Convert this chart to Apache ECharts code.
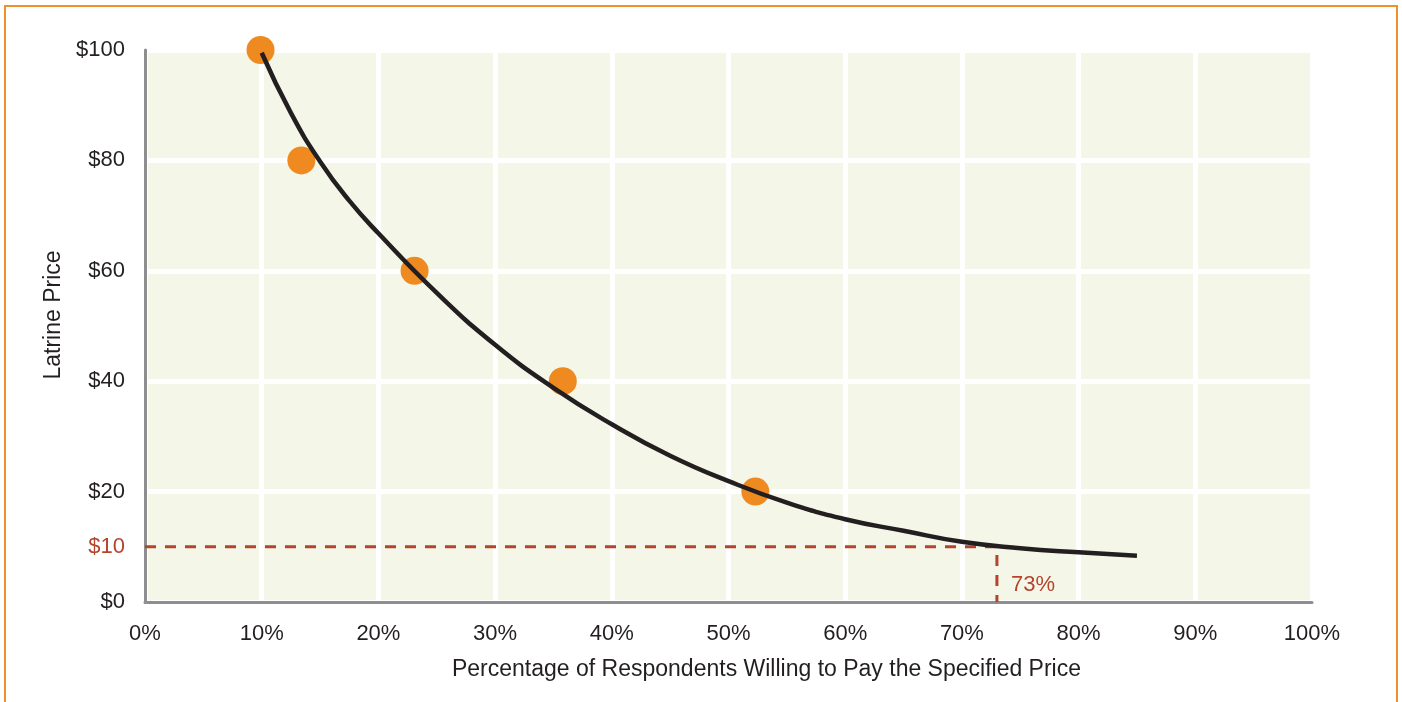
<!DOCTYPE html>
<html>
<head>
<meta charset="utf-8">
<script src="https://cdn.jsdelivr.net/npm/echarts@6/dist/echarts.min.js"></script>
<style>
html,body{margin:0;padding:0;background:#fff;}
#chart{width:1402px;height:702px;}
</style>
</head>
<body>
<div id="chart"></div>
<script>
// Survey points (percentage willing, price)
var surveyPct = [9.9, 13.4, 23.1, 35.8, 52.3];
var surveyPrice = [100, 80, 60, 40, 20];
// Fitted demand curve
var curvePct = [10, 12.5, 15, 17.5, 20, 25, 30, 35, 40, 45, 50, 55, 60, 65, 70, 75, 80, 85];
var curvePrice = [99.5, 88.6, 79.8, 72.7, 66.8, 56.0, 46.6, 38.8, 32.2, 26.5, 21.9, 18.0, 15.0, 12.9, 10.9, 9.75, 9.0, 8.4];
// Reference lines
var refPrice = 10;
var refPct = 73;
var xTicks = [0, 10, 20, 30, 40, 50, 60, 70, 80, 90, 100];
var yTicks = [0, 20, 40, 60, 80, 100];

var FONT = '"Liberation Sans", Arial, Helvetica, sans-serif';
var TXT = '#231f20';
var RED = '#b5432d';

var chart = echarts.init(document.getElementById('chart'), null, {renderer: 'canvas'});

var option = {
  backgroundColor: '#ffffff',
  animation: false,
  textStyle: {fontFamily: FONT},
  graphic: [{
    type: 'rect',
    shape: {x: 5, y: 6, width: 1392, height: 720},
    style: {fill: 'none', stroke: '#f0902a', lineWidth: 2},
    silent: true,
    z: 100
  }],
  grid: {
    left: 145, right: 90, top: 50, bottom: 100,
    show: true, backgroundColor: '#f4f7e7', borderWidth: 0
  },
  xAxis: {
    type: 'value',
    min: xTicks[0], max: xTicks[xTicks.length - 1], interval: 10,
    name: 'Percentage of Respondents Willing to Pay the Specified Price',
    nameLocation: 'middle', nameGap: 56,
    nameTextStyle: {color: TXT, fontSize: 23, fontFamily: FONT, padding: [0, 0, 0, 76]},
    axisLine: {show: true, lineStyle: {color: '#8e8e90', width: 3}},
    axisTick: {show: false},
    axisLabel: {color: TXT, fontSize: 22, fontFamily: FONT, margin: 21, formatter: '{value}%'},
    splitLine: {show: true, lineStyle: {color: '#ffffff', width: 5}}
  },
  yAxis: [{
    type: 'value',
    min: yTicks[0], max: yTicks[yTicks.length - 1], interval: 20,
    name: 'Latrine Price',
    nameLocation: 'middle', nameGap: 80,
    nameTextStyle: {color: TXT, fontSize: 23, fontFamily: FONT, padding: [0, 0, 0, 22]},
    axisLine: {show: true, lineStyle: {color: '#8e8e90', width: 3}},
    axisTick: {show: false},
    axisLabel: {color: TXT, fontSize: 22, fontFamily: FONT, margin: 20, formatter: '${value}'},
    splitLine: {show: true, lineStyle: {color: '#ffffff', width: 5}}
  }, {
    type: 'value',
    position: 'left',
    min: 0, max: 100, interval: 10,
    axisLine: {show: false},
    axisTick: {show: false},
    splitLine: {show: false},
    axisLabel: {
      color: RED, fontSize: 22, fontFamily: FONT, margin: 20,
      formatter: function (v) { return v === refPrice ? '$' + v : ''; }
    }
  }],
  series: [{
    type: 'line',
    data: [[0, refPrice], [refPct, refPrice], [refPct, 0]],
    symbol: 'none',
    lineStyle: {color: RED, width: 3, type: [11, 9]},
    z: 2,
    silent: true
  }, {
    type: 'scatter',
    data: [[refPct, 0]],
    symbolSize: 0,
    itemStyle: {opacity: 1, color: RED},
    label: {
      show: true, position: 'right', distance: 14, offset: [0, -17],
      formatter: refPct + '%', color: RED, fontSize: 22, fontFamily: FONT, opacity: 1
    },
    z: 3,
    silent: true
  }, {
    type: 'scatter',
    data: surveyPct.map(function (p, i) { return [p, surveyPrice[i]]; }),
    symbol: 'circle',
    symbolSize: 28,
    itemStyle: {color: '#ee8a1f', opacity: 1},
    clip: false,
    z: 4,
    silent: true
  }, {
    type: 'line',
    data: curvePct.map(function (p, i) { return [p, curvePrice[i]]; }),
    symbol: 'none',
    smooth: 0.5,
    lineStyle: {color: '#231f20', width: 4.5, cap: 'butt'},
    clip: false,
    z: 5,
    silent: true
  }]
};
chart.setOption(option);
</script>
</body>
</html>
